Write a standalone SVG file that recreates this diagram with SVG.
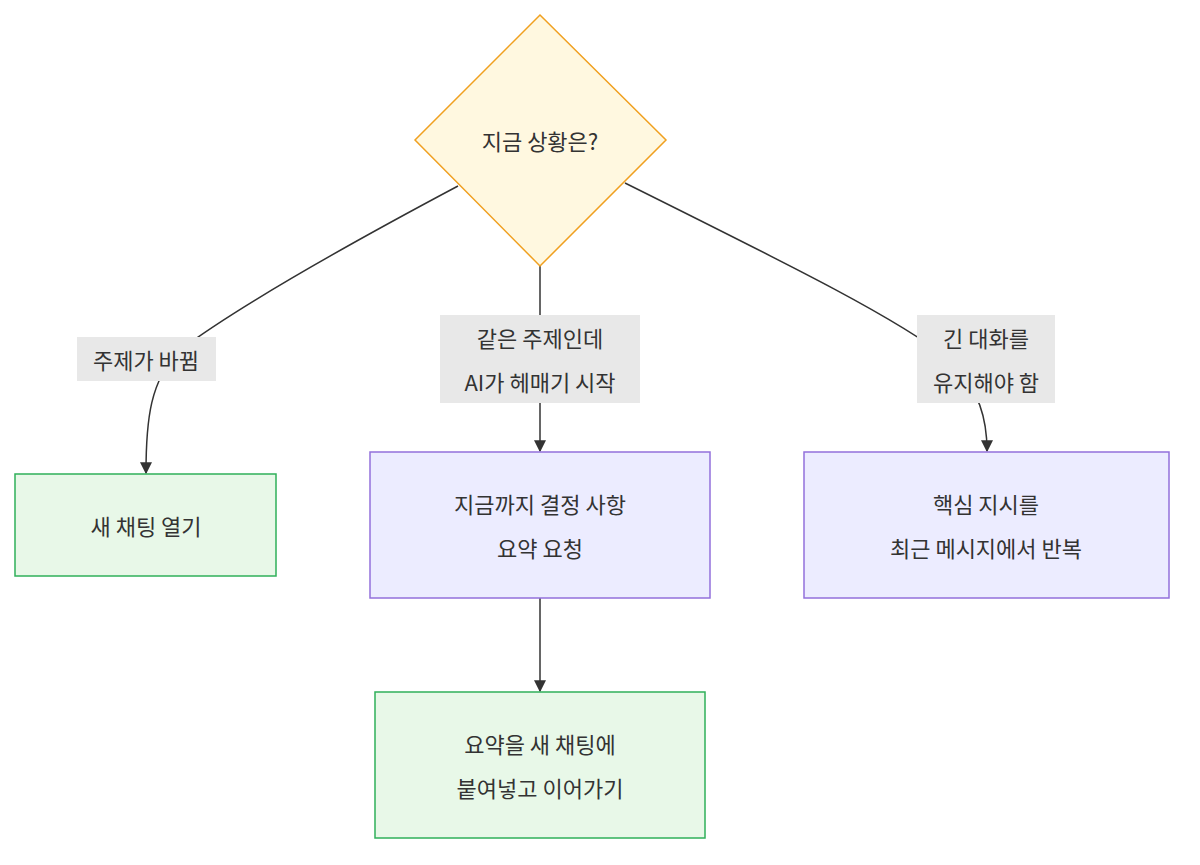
<svg xmlns="http://www.w3.org/2000/svg" width="1200" height="865" viewBox="0 0 1200 865">
<style>
text{font-family:"Noto Sans CJK KR","Noto Sans",sans-serif;font-size:22px;fill:#333;text-anchor:middle;dominant-baseline:central}
.g{fill:#e8f8e8;stroke:#2fb05a;stroke-width:1.5}
.p{fill:#ececff;stroke:#9370db;stroke-width:1.5}
.e{fill:none;stroke:#333;stroke-width:1.5;marker-end:url(#a)}
.l{fill:#e8e8e8;stroke:none}
</style>
<defs><marker id="a" viewBox="0 0 10 10" refX="9" refY="5" markerWidth="8" markerHeight="8" orient="auto"><path d="M0,0L10,5L0,10z" fill="#333"/></marker></defs>
<rect width="1200" height="865" fill="#fff"/>
<g id="edges">
<path class="e" d="M458,186 C300,270 220,320 180,350 C150,380 146,420 146,473"/>
<path class="e" d="M540,266 L540,451"/>
<path class="e" d="M625,183 C800,270 900,320 950,360 C980,390 987,420 987,451"/>
<path class="e" d="M540,598 L540,691"/>
<rect class="l" x="77" y="337" width="139" height="44"/><text x="146" y="359">주제가 바뀜</text>
<rect class="l" x="440" y="315" width="200" height="88"/><text x="540" y="337">같은 주제인데</text><text x="540" y="381">AI가 헤매기 시작</text>
<rect class="l" x="917" y="315" width="138" height="88"/><text x="986" y="337">긴 대화를</text><text x="986" y="381">유지해야 함</text>
</g>
<g id="q"><path d="M540,15 L666,140 L540,266 L415,140 Z" fill="#fff8e0" stroke="#f0a020" stroke-width="1.5"/><text x="540" y="140">지금 상황은?</text></g>
<g id="n1"><rect class="g" x="15" y="474" width="261" height="102"/><text x="146" y="525">새 채팅 열기</text></g>
<g id="n2"><rect class="p" x="370" y="452" width="340" height="146"/><text x="540" y="503">지금까지 결정 사항</text><text x="540" y="547">요약 요청</text></g>
<g id="n3"><rect class="p" x="804" y="452" width="365" height="146"/><text x="986" y="503">핵심 지시를</text><text x="986" y="547">최근 메시지에서 반복</text></g>
<g id="n4"><rect class="g" x="375" y="692" width="330" height="146"/><text x="540" y="743">요약을 새 채팅에</text><text x="540" y="787">붙여넣고 이어가기</text></g>
</svg>
